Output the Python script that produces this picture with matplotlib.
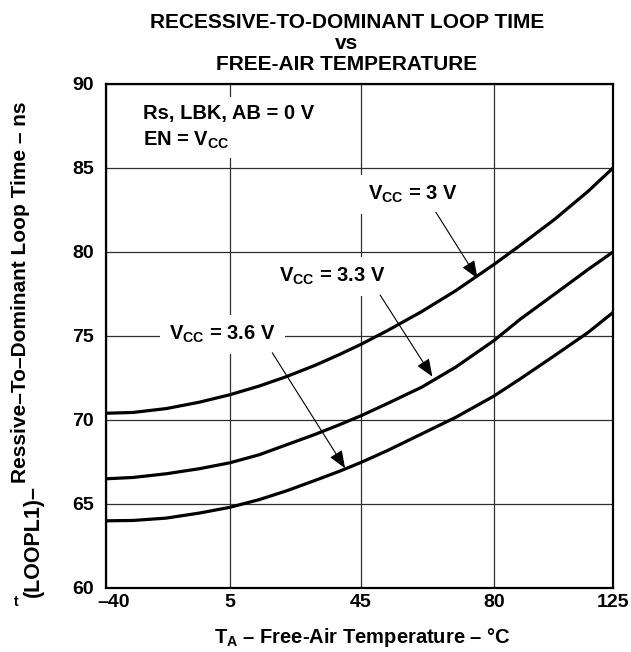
import numpy as np
import matplotlib
matplotlib.use('Agg')
import matplotlib.pyplot as plt
from matplotlib.transforms import ScaledTranslation

plt.rcParams['font.family'] = 'Liberation Sans'
plt.rcParams['font.weight'] = 'bold'
plt.rcParams['mathtext.fontset'] = 'custom'
plt.rcParams['mathtext.rm'] = 'Liberation Sans:bold'
plt.rcParams['mathtext.it'] = 'Liberation Sans:bold'
plt.rcParams['mathtext.bf'] = 'Liberation Sans:bold'
plt.rcParams['mathtext.default'] = 'rm'

# data (temperature in degC, loop time in ns)
temps = [-40, -30, -18, -6, 5, 14, 22, 31, 38.5, 45, 52, 61, 70, 80, 90, 103, 115.5, 125]
loop_3v0 = [70.4, 70.45, 70.68, 71.06, 71.5, 72.02, 72.56, 73.25, 73.9, 74.5,
            75.32, 76.45, 77.7, 79.25, 80.4, 81.95, 83.6, 85.0]
loop_3v3 = [66.5, 66.58, 66.8, 67.1, 67.45, 67.93, 68.5, 69.14, 69.72, 70.25,
            70.98, 71.95, 73.15, 74.72, 76.0, 77.5, 78.95, 80.0]
loop_3v6 = [64.0, 64.02, 64.16, 64.46, 64.8, 65.26, 65.76, 66.4, 66.95, 67.47,
            68.18, 69.17, 70.16, 71.42, 72.45, 73.84, 75.2, 76.4]

tick_temps = [-40, 5, 45, 80, 125]
tick_labels = ['\u201340', '5', '45', '80', '125']
y_ticks = [60, 65, 70, 75, 80, 85, 90]

# the printed grid is not evenly spaced, place ticks where they sit
tick_pos = [0.0, 0.2445, 0.503, 0.765, 1.0]


def xpos(t):
    return np.interp(t, tick_temps, tick_pos)


fig = plt.figure(figsize=(6.31, 6.52), dpi=100)
ax = fig.add_axes([105.6 / 631, 1 - 588 / 652, 507.4 / 631, 504 / 652])

ax.set_xlim(0, 1)
ax.set_ylim(60, 90)
ax.set_xticks(tick_pos, tick_labels)
ax.set_yticks(y_ticks)
ax.tick_params(length=0, labelsize=14)
ax.tick_params(axis='y', pad=8.5)
ax.tick_params(axis='x', pad=4)
for lab in ax.get_xticklabels() + ax.get_yticklabels():
    lab.set_fontweight('bold')
# first label is printed a little to the right of the axis
first = ax.get_xticklabels()[0]
first.set_transform(first.get_transform() + ScaledTranslation(0.08, 0, fig.dpi_scale_trans))
ax.grid(True, color='#303030', lw=0.9)
ax.set_axisbelow(True)
for sp in ax.spines.values():
    sp.set_linewidth(1.6)

for vals in (loop_3v0, loop_3v3, loop_3v6):
    ax.plot(xpos(temps), vals, color='black', lw=2.3, solid_joinstyle='round', zorder=3)

box = dict(boxstyle='square,pad=0.35', fc='white', ec='none')
ax.text(0.0743, 87.9, 'Rs, LBK, AB = 0 V', fontsize=14.5, va='baseline', bbox=box, zorder=4)
ax.text(0.0743, 86.31, r'EN = V$_{CC}$', fontsize=14.5, va='baseline', bbox=box, zorder=4)

labels = [r'V$_{CC}$ = 3 V', r'V$_{CC}$ = 3.3 V', r'V$_{CC}$ = 3.6 V']
text_xy = [(0.5166, 83.1), (0.3415, 78.23), (0.1257, 74.76)]
arrow_from = [(0.651, 82.36), (0.541, 77.44), (0.3285, 74.0)]
arrow_to = [(0.733, 78.43), (0.644, 72.58), (0.472, 67.13)]
for s, (tx, ty), a0, a1 in zip(labels, text_xy, arrow_from, arrow_to):
    ax.text(tx, ty, s, fontsize=14.5, va='baseline',
            bbox=dict(boxstyle='square,pad=0.45', fc='white', ec='none'), zorder=4)
    ax.annotate('', xy=a1, xytext=a0,
                arrowprops=dict(arrowstyle='-|>,head_length=0.4,head_width=0.16',
                                mutation_scale=27, lw=0.8, color='black',
                                shrinkA=0, shrinkB=0), zorder=5)

fig.text(347 / 631, 1 - 13.5 / 652,
         'RECESSIVE-TO-DOMINANT LOOP TIME\nvs\nFREE-AIR TEMPERATURE',
         ha='center', va='top', fontsize=15, fontweight='bold', linespacing=1.12)

fig.text(362 / 631, 1 - 642.7 / 652, 'T$_{A}$ \u2013 Free-Air Temperature \u2013 \u00b0C',
         ha='center', va='baseline', fontsize=14.5, fontweight='bold')

fig.text(21 / 631, 1 - 483 / 652, 'Ressive\u2013To\u2013Dominant Loop Time \u2013 ns',
         rotation=90, ha='center', va='bottom', fontsize=15, fontweight='bold')
fig.text(33 / 631, 1 - 597 / 652, '(LOOPL1)\u2013',
         rotation=90, ha='center', va='bottom', fontsize=15.5, fontweight='bold')
fig.text(15.8 / 631, 1 - 602.5 / 652, 't', ha='center', va='center', fontsize=10, fontweight='bold')

fig.savefig('out.png', dpi=100)
